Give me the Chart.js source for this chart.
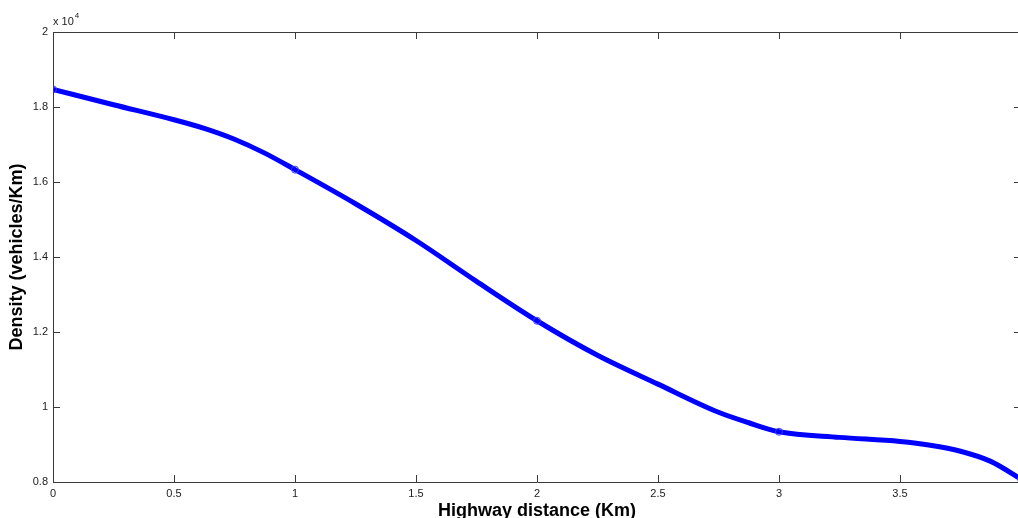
<!DOCTYPE html>
<html>
<head>
<meta charset="utf-8">
<script src="https://cdn.jsdelivr.net/npm/chart.js@4/dist/chart.umd.min.js"></script>
<style>
    html, body { margin: 0; padding: 0; background: #fff; overflow: hidden; }
    #wrap { position: relative; width: 1018px; height: 518px; overflow: hidden; }
    canvas { position: absolute; left: 0; top: 0; }
</style>
</head>
<body>
<div id="wrap"><canvas id="densityChart" width="1030" height="530"></canvas></div>
<script>
// Highway distance (Km) and density (vehicles/Km)
const distanceKm = [0, 0.25, 0.5, 0.625, 0.75, 0.875, 1, 1.25, 1.5, 1.75, 2, 2.25, 2.5, 2.75, 2.875, 3, 3.25, 3.5, 3.625, 3.75, 3.875, 4];
const density = [18470, 18060, 17660, 17430, 17140, 16770, 16330, 15420, 14440, 13350, 12300, 11380, 10610, 9860, 9580, 9340, 9190, 9080, 8980, 8820, 8550, 8080];
// positions that carry the small circle marker
const markerKm = [0, 1, 2, 3, 4];

const xTicks = [0, 0.5, 1, 1.5, 2, 2.5, 3, 3.5, 4];
const yTicks = [8000, 10000, 12000, 14000, 16000, 18000, 20000];

const FONT = "'Liberation Sans', Arial, sans-serif";
const AXIS_COLOR = '#3a3a3a';
const TICK_LEN = 7;

// MATLAB style box with inward ticks + the x 10^4 multiplier
const boxPlugin = {
    id: 'matlabBox',
    afterDraw(chart) {
        const { ctx, chartArea: a } = chart;
        const xs = chart.scales.x, ys = chart.scales.y;
        ctx.save();
        ctx.strokeStyle = AXIS_COLOR;
        ctx.lineWidth = 1;
        ctx.beginPath();
        ctx.rect(Math.round(a.left) + 0.5, Math.round(a.top) + 0.5,
            Math.round(a.right - a.left), Math.round(a.bottom - a.top));
        xTicks.forEach(v => {
            const px = Math.round(xs.getPixelForValue(v)) + 0.5;
            ctx.moveTo(px, a.bottom); ctx.lineTo(px, a.bottom - TICK_LEN);
            ctx.moveTo(px, a.top); ctx.lineTo(px, a.top + TICK_LEN);
        });
        yTicks.forEach(v => {
            const py = Math.round(ys.getPixelForValue(v)) + 0.5;
            ctx.moveTo(a.left, py); ctx.lineTo(a.left + TICK_LEN, py);
            ctx.moveTo(a.right, py); ctx.lineTo(a.right - TICK_LEN, py);
        });
        ctx.stroke();

        ctx.fillStyle = '#222';
        ctx.textBaseline = 'alphabetic';
        ctx.font = '11px ' + FONT;
        ctx.fillText('x 10', a.left, a.top - 7);
        const w = ctx.measureText('x 10').width;
        ctx.font = '8px ' + FONT;
        ctx.fillText('4', a.left + w + 1, a.top - 14);
        ctx.restore();
    }
};

const points = distanceKm.map((x, i) => ({ x: x, y: density[i] }));

new Chart(document.getElementById('densityChart'), {
    type: 'line',
    data: {
        datasets: [{
            data: points,
            borderColor: '#0000ff',
            borderWidth: 5,
            cubicInterpolationMode: 'monotone',
            fill: false,
            pointRadius: c => markerKm.includes(distanceKm[c.dataIndex]) ? 3.5 : 0,
            pointStyle: 'circle',
            pointBorderColor: '#3b3bff',
            pointBorderWidth: 1,
            pointBackgroundColor: 'rgba(0,0,0,0)'
        }]
    },
    options: {
        responsive: false,
        animation: false,
        layout: { padding: { top: 32, right: 9, left: 0, bottom: 0 } },
        plugins: { legend: { display: false }, tooltip: { enabled: false } },
        scales: {
            x: {
                type: 'linear',
                min: 0, max: 4,
                afterBuildTicks: s => { s.ticks = xTicks.map(v => ({ value: v })); },
                afterFit: s => { s.height = 48; },
                grid: { display: false, drawTicks: false },
                border: { display: false },
                ticks: {
                    padding: 5,
                    color: '#222',
                    maxRotation: 0,
                    autoSkip: false,
                    font: { family: FONT, size: 11 },
                    callback: v => String(v)
                },
                title: {
                    display: true,
                    text: 'Highway distance (Km)',
                    color: '#000',
                    font: { family: FONT, size: 18, weight: 'bold' },
                    padding: { top: 0, bottom: 8 }
                }
            },
            y: {
                min: 8000, max: 20000,
                afterBuildTicks: s => { s.ticks = yTicks.map(v => ({ value: v })); },
                afterFit: s => { s.width = 53; },
                grid: { display: false, drawTicks: false },
                border: { display: false },
                ticks: {
                    padding: 5,
                    color: '#222',
                    autoSkip: false,
                    font: { family: FONT, size: 11 },
                    callback: v => String(+(v / 10000).toFixed(1))
                },
                title: {
                    display: true,
                    text: 'Density (vehicles/Km)',
                    color: '#000',
                    font: { family: FONT, size: 18, weight: 'bold' },
                    padding: { top: 6, bottom: 0 }
                }
            }
        }
    },
    plugins: [boxPlugin]
});
</script>
</body>
</html>
